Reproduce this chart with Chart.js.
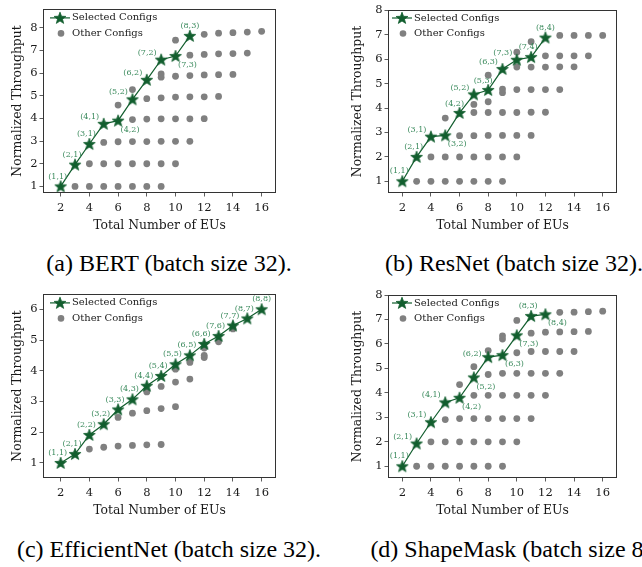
<!DOCTYPE html>
<html>
<head>
<meta charset="utf-8">
<script src="https://cdn.jsdelivr.net/npm/chart.js@4.4.1/dist/chart.umd.min.js"></script>
<style>
  html, body { margin: 0; padding: 0; background: #fff; }
  body { width: 642px; height: 567px; position: relative; overflow: hidden; }
  canvas { position: absolute; }
  .cap { position: absolute; width: 360px; text-align: center; white-space: nowrap;
         font-family: "Liberation Serif", "Times New Roman", serif; font-size: 24px; line-height: 24px; color: #000; }
</style>
</head>
<body>
<canvas id="chartBert" width="320" height="240" style="left:0;top:0"></canvas>
<canvas id="chartResnet" width="322" height="240" style="left:320px;top:0"></canvas>
<canvas id="chartEffnet" width="320" height="240" style="left:0;top:285px"></canvas>
<canvas id="chartShapemask" width="322" height="240" style="left:320px;top:285px"></canvas>
<div class="cap" style="left:-11px;top:251px">(a) BERT (batch size 32).</div>
<div class="cap" style="left:334px;top:251px">(b) ResNet (batch size 32).</div>
<div class="cap" style="left:-11px;top:537px">(c) EfficientNet (batch size 32).</div>
<div class="cap" style="left:334px;top:537px">(d) ShapeMask (batch size 8).</div>
<script>
// tick labels
const xTicks = [2, 4, 6, 8, 10, 12, 14, 16];
const yTicks8 = [1, 2, 3, 4, 5, 6, 7, 8];
const yTicks6 = [1, 2, 3, 4, 5, 6];

// (a) BERT
const bertSelEUs = [2, 3, 4, 5, 6, 7, 8, 9, 10, 11];
const bertSelTput = [1.00, 1.96, 2.87, 3.76, 3.90, 4.84, 5.70, 6.59, 6.75, 7.64];
const bertSelCfg = ['(1,1)', '(2,1)', '(3,1)', '(4,1)', '(4,2)', '(5,2)', '(6,2)', '(7,2)', '(7,3)', '(8,3)'];
const bertOtherEUs = [3, 4, 5, 6, 7, 8, 9, 4, 5, 6, 7, 8, 9, 10, 5, 6, 7, 8, 9, 10, 11, 7, 8, 9, 10, 11, 12, 6,
    8, 9, 10, 11, 12, 13, 7, 9, 9, 10, 11, 12, 13, 14, 11, 12, 13, 14, 15, 10, 12, 13, 14, 15, 16];
const bertOtherTput = [1, 1, 1, 1, 1, 1, 1, 2, 2, 2, 2, 2, 2, 2, 2.94, 2.97, 2.98, 2.98, 2.99, 2.99, 2.99,
    3.95, 3.97, 3.98, 3.98, 3.98, 3.99, 4.59, 4.87, 4.91, 4.94, 4.95, 4.95, 4.97, 5.27,
    5.96, 5.82, 5.86, 5.89, 5.92, 5.93, 5.94, 6.79, 6.82, 6.85, 6.86, 6.88, 7.45, 7.71, 7.76, 7.78, 7.81, 7.84];

// (b) ResNet
const resnetSelEUs = [2, 3, 4, 5, 6, 7, 8, 9, 10, 11, 12];
const resnetSelTput = [1.00, 2.00, 2.83, 2.88, 3.80, 4.56, 4.74, 5.60, 5.98, 6.09, 6.89];
const resnetSelCfg = ['(1,1)', '(2,1)', '(3,1)', '(3,2)', '(4,2)', '(5,2)', '(5,3)', '(6,3)', '(7,3)', '(7,4)', '(8,4)'];
const resnetOtherEUs = [3, 4, 5, 6, 7, 8, 9, 4, 5, 6, 7, 8, 9, 10, 6, 7, 8, 9, 10, 11, 5, 7, 8, 9, 10, 11, 12, 7, 8,
    9, 9, 10, 11, 12, 13, 8, 10, 11, 12, 13, 14, 10, 12, 13, 14, 15, 11, 13, 14, 15, 16];
const resnetOtherTput = [1, 1, 1, 1, 1, 1, 1, 2, 2, 2, 2, 2, 2, 2, 2.87, 2.87, 2.88, 2.88, 2.88, 2.88, 3.59,
    3.82, 3.82, 3.82, 3.82, 3.83, 3.83, 4.15, 4.26, 4.78, 4.63, 4.76, 4.76, 4.76, 4.76, 5.35,
    5.68, 5.68, 5.68, 5.69, 5.69, 6.29, 6.14, 6.14, 6.14, 6.14, 6.72, 6.98, 6.98, 6.98, 6.98];

// (c) EfficientNet
const effnetSelEUs = [2, 3, 4, 5, 6, 7, 8, 9, 10, 11, 12, 13, 14, 15, 16];
const effnetSelTput = [1.00, 1.29, 1.91, 2.26, 2.74, 3.07, 3.51, 3.83, 4.21, 4.50, 4.87, 5.13, 5.47, 5.70, 6.00];
const effnetSelCfg = ['(1,1)', '(2,1)', '(2,2)', '(3,2)', '(3,3)', '(4,3)', '(4,4)', '(5,4)', '(5,5)', '(6,5)',
    '(6,6)', '(7,6)', '(7,7)', '(8,7)', '(8,8)'];
const effnetOtherEUs = [4, 5, 6, 7, 8, 9, 6, 7, 8, 9, 10, 8, 9, 10, 11, 10, 11, 12, 12, 12, 13, 14];
const effnetOtherTput = [1.45, 1.51, 1.55, 1.57, 1.59, 1.60, 2.48, 2.62, 2.70, 2.77, 2.83, 3.31, 3.49, 3.63, 3.73,
    4.05, 4.27, 4.43, 4.50, 4.74, 4.94, 5.36];

// (d) ShapeMask
const shapeSelEUs = [2, 3, 4, 5, 6, 7, 8, 9, 10, 11, 12];
const shapeSelTput = [1.00, 1.93, 2.80, 3.61, 3.80, 4.63, 5.46, 5.54, 6.35, 7.14, 7.21];
const shapeSelCfg = ['(1,1)', '(2,1)', '(3,1)', '(4,1)', '(4,2)', '(5,2)', '(6,2)', '(6,3)', '(7,3)', '(8,3)', '(8,4)'];
const shapeOtherEUs = [3, 4, 5, 6, 7, 8, 9, 4, 5, 6, 7, 8, 9, 10, 5, 6, 7, 8, 9, 10, 11, 6, 7, 8, 9, 10, 11, 12, 7,
    8, 9, 10, 11, 12, 13, 8, 10, 11, 12, 13, 14, 9, 9, 10, 11, 12, 13, 14, 15, 13, 14, 15, 16];
const shapeOtherTput = [1, 1, 1, 1, 1, 1, 1, 2, 2, 2, 2, 2, 2, 2, 2.91, 2.95, 2.95, 2.95, 2.95, 2.95, 2.95, 4.34,
    3.90, 3.90, 3.90, 3.90, 3.90, 3.90, 5.07, 4.75, 4.80, 4.80, 4.80, 4.80, 4.80, 5.73,
    5.64, 5.69, 5.69, 5.69, 5.69, 6.33, 6.20, 6.96, 6.44, 6.48, 6.49, 6.50, 6.51, 7.29, 7.30, 7.32, 7.34];

// where each config label sits relative to its star
const bertLabelPos = ['n', 'n', 'n', 'nw', 'se', 'nw', 'nw', 'nw', 'se', 'nc'];
const resnetLabelPos = ['n', 'n', 'nw', 'se', 'nl', 'nw', 'nl', 'nw', 'nw', 'n', 'nc'];
const effnetLabelPos = ['n', 'n', 'n', 'n', 'n', 'n', 'n', 'n', 'n', 'n', 'n', 'n', 'n', 'n', 'nc'];
const shapeLabelPos = ['n', 'nw', 'nw', 'nw', 'se', 'se', 'w', 'se', 'se', 'n', 'se'];

const labelOffsets = { n: [-3, -10], nc: [0, -10], nl: [-5, -9], nw: [-14, -7], se: [12, 9], w: [-16, -3] };

const green = '#125e2e';
const labelGreen = '#3a8a5c';
const gray = '#808080';
const axisColor = '#333333';
const textColor = '#1a1a1a';

Chart.defaults.font.family = '"DejaVu Serif", serif';
Chart.defaults.font.size = 11.5;
Chart.defaults.color = textColor;

function makeStar(size, fill) {
    const c = document.createElement('canvas');
    c.width = size;
    c.height = size;
    const g = c.getContext('2d');
    const cx = size / 2, cy = size / 2 + 0.4, R = size / 2 - 0.8, r = R * 0.42;
    g.beginPath();
    for (let i = 0; i < 10; i++) {
        const a = -Math.PI / 2 + i * Math.PI / 5;
        const rad = i % 2 === 0 ? R : r;
        g.lineTo(cx + rad * Math.cos(a), cy + rad * Math.sin(a));
    }
    g.closePath();
    g.fillStyle = fill;
    g.fill();
    g.strokeStyle = fill;
    g.lineWidth = 0.8;
    g.stroke();
    return c;
}
const starImg = makeStar(14, green);

// frame around plot area, config labels, legend
const decorPlugin = {
    id: 'decor',
    afterDatasetsDraw(chart) {
        const ctx = chart.ctx;
        const meta = chart.getDatasetMeta(0);
        const cfg = chart.options.plugins.decor;
        ctx.save();
        ctx.font = '8px "DejaVu Serif", serif';
        ctx.fillStyle = labelGreen;
        ctx.textAlign = 'center';
        ctx.textBaseline = 'middle';
        meta.data.forEach((pt, i) => {
            const off = labelOffsets[cfg.labelPos[i]];
            ctx.fillText(cfg.labels[i], pt.x + off[0], pt.y + off[1]);
        });
        ctx.restore();
    },
    afterDraw(chart) {
        const ctx = chart.ctx;
        const a = chart.chartArea;
        const cfg = chart.options.plugins.decor;
        ctx.save();
        ctx.strokeStyle = axisColor;
        ctx.lineWidth = 1;
        ctx.strokeRect(Math.round(a.left) + 0.5, Math.round(a.top) + 0.5,
            Math.round(a.right - a.left) - 1, Math.round(a.bottom - a.top) - 1);

        // legend
        const lx = a.left + cfg.legendDx, ly = a.top + cfg.legendDy;
        ctx.strokeStyle = green;
        ctx.lineWidth = 1.2;
        ctx.beginPath();
        ctx.moveTo(lx, ly);
        ctx.lineTo(lx + 20, ly);
        ctx.stroke();
        ctx.drawImage(starImg, lx + 10 - 7, ly - 7, 14, 14);
        ctx.fillStyle = gray;
        ctx.beginPath();
        ctx.arc(lx + 11, ly + 15.5, 3.3, 0, Math.PI * 2);
        ctx.fill();
        ctx.fillStyle = textColor;
        ctx.font = '10px "DejaVu Serif", serif';
        ctx.textBaseline = 'middle';
        ctx.textAlign = 'left';
        ctx.fillText('Selected Configs', lx + 22, ly);
        ctx.fillText('Other Configs', lx + 22, ly + 15.5);
        ctx.restore();
    }
};

function points(xs, ys) {
    return xs.map((x, i) => ({ x: x, y: ys[i] }));
}

function makeChart(id, sel, other, labels, labelPos, yTicks, g) {
    const el = document.getElementById(id);
    if (!el) return;
    new Chart(el.getContext('2d'), {
        type: 'scatter',
        data: {
            datasets: [
                {
                    label: 'Selected Configs',
                    data: sel,
                    showLine: true,
                    borderColor: green,
                    borderWidth: 1.2,
                    pointStyle: starImg,
                    pointRadius: 7
                },
                {
                    label: 'Other Configs',
                    data: other,
                    backgroundColor: gray,
                    borderWidth: 0,
                    pointRadius: 3.4
                }
            ]
        },
        options: {
            responsive: false,
            animation: false,
            events: [],
            layout: { padding: { left: 0, top: g.padTop, right: g.padRight, bottom: 0 } },
            plugins: {
                legend: { display: false },
                tooltip: { enabled: false },
                decor: { labels: labels, labelPos: labelPos, legendDx: g.legendDx, legendDy: g.legendDy }
            },
            scales: {
                x: {
                    type: 'linear',
                    min: g.xmin,
                    max: g.xmax,
                    afterBuildTicks: s => { s.ticks = xTicks.map(v => ({ value: v })); },
                    afterFit: s => { s.height = 47; },
                    grid: { drawOnChartArea: false, drawTicks: true, tickLength: 3.5, color: axisColor, lineWidth: 0.8 },
                    border: { display: false },
                    ticks: { padding: 4.5, color: textColor, maxRotation: 0 },
                    title: { display: true, text: 'Total Number of EUs', font: { size: 12.4 },
                             padding: { top: 0, bottom: 6.5 }, color: textColor }
                },
                y: {
                    type: 'linear',
                    min: g.ymin,
                    max: g.ymax,
                    afterBuildTicks: s => { s.ticks = yTicks.map(v => ({ value: v })); },
                    afterFit: s => { s.width = g.yWidth; },
                    grid: { drawOnChartArea: false, drawTicks: true, tickLength: 3.5, color: axisColor, lineWidth: 0.8 },
                    border: { display: false },
                    ticks: { padding: 2, color: textColor },
                    title: { display: true, text: 'Normalized Throughput', font: { size: 12.4 },
                             padding: { top: g.yTitlePad, bottom: 0 }, color: textColor }
                }
            }
        },
        plugins: [decorPlugin]
    });
}

window.onload = function () {
    const leftGeo = { padTop: 5, padRight: 44, yWidth: 43, yTitlePad: 10.5, xmin: 0.77, xmax: 17, legendDx: 7, legendDy: 9 };
    const rightGeo = { padTop: 10, padRight: 25, yWidth: 68, yTitlePad: 30.5, xmin: 1, xmax: 17, legendDx: 4, legendDy: 8 };

    makeChart('chartBert', points(bertSelEUs, bertSelTput), points(bertOtherEUs, bertOtherTput),
        bertSelCfg, bertLabelPos, yTicks8, Object.assign({}, leftGeo, { ymin: 0.71, ymax: 8.83 }));
    makeChart('chartResnet', points(resnetSelEUs, resnetSelTput), points(resnetOtherEUs, resnetOtherTput),
        resnetSelCfg, resnetLabelPos, yTicks8, Object.assign({}, rightGeo, { ymin: 0.52, ymax: 8.02 }));
    makeChart('chartEffnet', points(effnetSelEUs, effnetSelTput), points(effnetOtherEUs, effnetOtherTput),
        effnetSelCfg, effnetLabelPos, yTicks6, Object.assign({}, leftGeo, { ymin: 0.51, ymax: 6.5 }));
    makeChart('chartShapemask', points(shapeSelEUs, shapeSelTput), points(shapeOtherEUs, shapeOtherTput),
        shapeSelCfg, shapeLabelPos, yTicks8, Object.assign({}, rightGeo, { ymin: 0.52, ymax: 8.0 }));
};
</script>
</body>
</html>
